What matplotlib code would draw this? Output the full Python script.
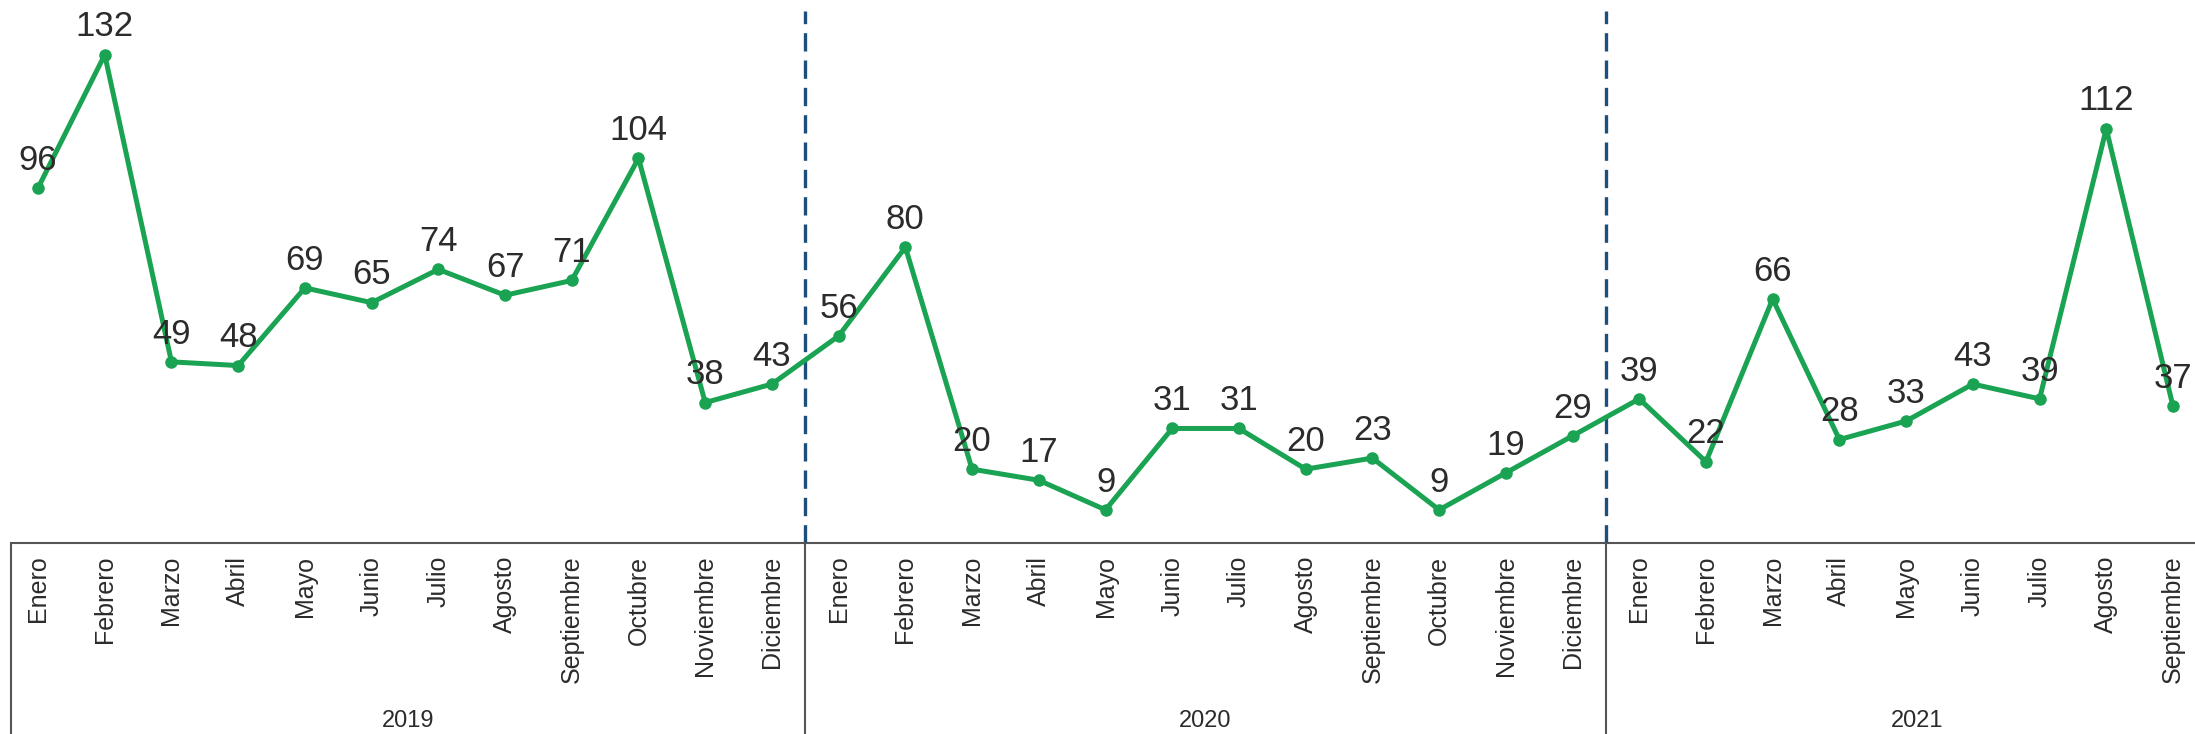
import matplotlib.pyplot as plt

plt.rcParams['font.family'] = ['Liberation Sans', 'DejaVu Sans']

# Data
months_2019 = ["Enero", "Febrero", "Marzo", "Abril", "Mayo", "Junio", "Julio",
               "Agosto", "Septiembre", "Octubre", "Noviembre", "Diciembre"]
months_2020 = list(months_2019)
months_2021 = months_2019[:9]
years = ["2019", "2020", "2021"]

values_2019 = [96, 132, 49, 48, 69, 65, 74, 67, 71, 104, 38, 43]
values_2020 = [56, 80, 20, 17, 9, 31, 31, 20, 23, 9, 19, 29]
values_2021 = [39, 22, 66, 28, 33, 43, 39, 112, 37]

month_groups = [months_2019, months_2020, months_2021]
value_groups = [values_2019, values_2020, values_2021]

months = [m for g in month_groups for m in g]
values = [v for g in value_groups for v in g]
x = list(range(len(values)))

GREEN = '#1aa352'
BLUE = '#1c4f7c'
TEXT = '#2b2b2b'
GRID = '#555555'

fig = plt.figure(figsize=(21.95, 7.34), dpi=100)
ax = fig.add_axes([0, 0.26, 1, 0.74])

# Main line
ax.plot(x, values, color=GREEN, lw=3.6, marker='o', markersize=8, zorder=3)

# Value labels
for xi, v in zip(x, values):
    ax.annotate(str(v), (xi, v), xytext=(0, 20), textcoords='offset points',
                ha='center', va='center', fontsize=25, color=TEXT, zorder=4)

ax.set_xlim(-0.57, 32.33)
ax.set_ylim(0, 146.8)

for s in ax.spines.values():
    s.set_visible(False)
ax.set_yticks([])
ax.set_xticks(x)
ax.set_xticklabels(months, rotation=90, fontsize=18, color=TEXT, va='top')
ax.tick_params(axis='x', length=0, pad=9)

tr = ax.get_xaxis_transform()
bottom = -0.26 / 0.74

# Category box under the plot
left_edge = -0.405
ax.plot([left_edge, 33], [0, 0], color=GRID, lw=1.5, transform=tr, clip_on=False)
ax.plot([left_edge, left_edge], [0, bottom], color=GRID, lw=1.5, transform=tr, clip_on=False)

# Year dividers, dashed above and solid inside the box
edges = [left_edge]
start = 0
for g in month_groups:
    start += len(g)
    edges.append(start - 0.5)
edges[-1] = 33

for b in edges[1:-1]:
    ax.plot([b, b], [0, 0.98], color=BLUE, lw=2.4, dashes=(5.5, 2.7), transform=tr, zorder=2)
    ax.plot([b, b], [0, bottom], color=GRID, lw=1.5, transform=tr, clip_on=False)

# Year labels
for i, yr in enumerate(years):
    lo = edges[i]
    hi = edges[i + 1] if i < len(years) - 1 else len(values) - 0.5 + 0.33
    ax.text((lo + hi) / 2, -0.328, yr, transform=tr, ha='center', va='center',
            fontsize=17, color=TEXT)

fig.savefig('out.png', dpi=100)
